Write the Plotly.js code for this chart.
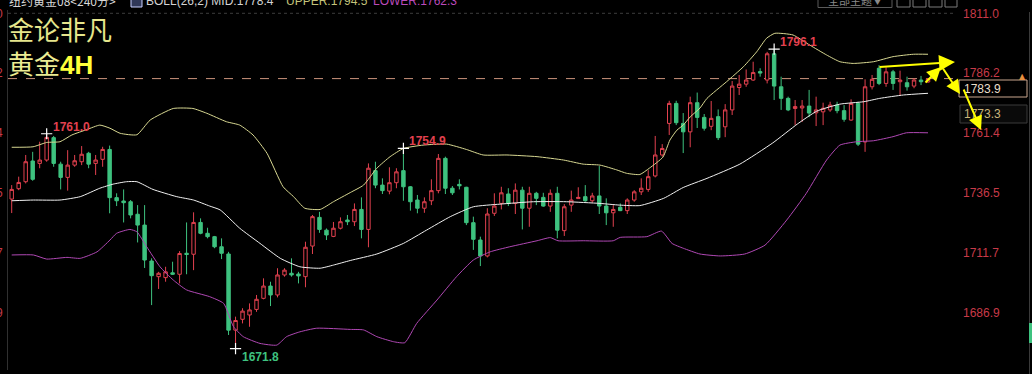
<!DOCTYPE html>
<html>
<head>
<meta charset="utf-8">
<script src="https://cdn.plot.ly/plotly-3.0.1.min.js"></script>
<style>
html,body{margin:0;padding:0;background:#000;}
#chart{width:1032px;height:374px;}
</style>
</head>
<body>
<div id="chart"></div>
<script>
// ---------- data ----------
const opens  = [1733.9,1738.2,1741.1,1749.7,1748.7,1750.1,1759.4,1748.4,1742.9,1748.0,1749.4,1752.9,1748.7,1750.4,1754.5,1734.5,1733.1,1732.8,1727.6,1723.1,
1708.2,1701.7,1701.3,1703.3,1702.7,1711.4,1711.0,1724.2,1719.7,1718.3,1714.1,1711.1,1679.5,1684.0,1685.8,1688.1,1692.7,1697.8,1694.1,1702.4,
1703.1,1702.8,1701.7,1714.4,1726.3,1721.0,1718.4,1721.8,1725.2,1724.5,1729.6,1721.3,1745.7,1739.7,1737.2,1740.7,1745.7,1739.0,1733.5,1730.1,
1733.2,1737.4,1750.8,1738.4,1740.0,1738.8,1724.1,1716.9,1710.3,1728.0,1732.1,1736.0,1732.1,1737.6,1730.1,1736.3,1734.6,1731.0,1736.3,1720.8,
1731.4,1734.1,1734.9,1733.2,1735.2,1731.0,1728.2,1730.5,1729.1,1733.5,1736.9,1737.9,1743.5,1752.2,1765.3,1773.6,1765.3,1761.8,1773.9,1767.8,
1764.1,1768.1,1763.9,1770.9,1780.2,1781.6,1783.3,1786.8,1783.3,1794.2,1780.5,1775.7,1771.5,1771.7,1772.5,1769.7,1770.1,1770.9,1772.9,1770.6,
1766.7,1773.6,1757.6,1780.5,1788.2,1781.9,1786.7,1782.6,1782.2,1780.8,1783.3,1782.5];
const highs  = [1739.7,1743.2,1752.2,1753.5,1757.7,1761.0,1760.1,1749.4,1754.2,1752.2,1755.9,1753.5,1752.2,1755.6,1756.1,1736.3,1737.9,1733.5,1731.4,1731.4,
1709.3,1703.7,1705.8,1707.9,1712.3,1724.2,1728.4,1725.9,1722.0,1718.6,1717.6,1712.0,1685.1,1688.6,1690.6,1694.1,1701.0,1699.6,1705.2,1705.2,
1709.3,1703.7,1716.2,1727.3,1728.6,1721.7,1724.4,1726.3,1727.3,1732.1,1734.6,1748.7,1749.4,1742.5,1747.1,1746.7,1754.9,1739.3,1735.6,1734.6,
1742.1,1752.6,1751.5,1739.3,1742.1,1739.0,1726.6,1718.3,1730.1,1736.3,1739.0,1738.4,1740.4,1739.0,1739.0,1736.9,1736.5,1737.9,1739.0,1731.8,
1737.4,1738.8,1739.7,1736.5,1747.6,1734.2,1731.4,1732.1,1734.2,1737.6,1742.5,1745.9,1760.1,1756.7,1774.7,1774.7,1769.6,1776.4,1778.1,1769.2,
1774.6,1771.1,1773.3,1782.9,1785.4,1787.7,1790.9,1788.2,1795.0,1796.1,1784.7,1776.4,1775.0,1775.0,1779.2,1776.4,1773.9,1774.3,1774.3,1772.9,
1775.3,1774.3,1783.6,1785.4,1789.5,1788.6,1787.5,1787.2,1784.7,1784.0,1785.0,1784.1];
const lows   = [1728.1,1737.6,1740.4,1741.5,1746.7,1749.4,1747.3,1737.9,1737.4,1747.3,1748.0,1746.7,1743.9,1747.3,1728.0,1731.0,1724.2,1725.9,1715.9,1705.3,
1689.9,1696.6,1699.6,1702.4,1698.9,1702.7,1704.4,1719.3,1717.6,1713.5,1709.0,1677.5,1671.8,1682.3,1680.9,1687.1,1692.3,1689.5,1693.1,1701.7,
1701.7,1698.9,1697.3,1711.1,1719.9,1716.9,1718.1,1721.3,1723.1,1722.7,1717.6,1713.9,1738.4,1736.0,1735.9,1738.4,1733.2,1729.1,1728.0,1728.2,
1731.4,1736.3,1736.0,1735.6,1737.9,1723.1,1712.8,1706.1,1709.7,1726.9,1729.6,1731.0,1727.7,1721.3,1722.4,1731.4,1730.7,1728.6,1717.6,1718.6,
1728.6,1734.0,1732.8,1732.4,1727.7,1723.1,1722.4,1728.9,1727.7,1732.8,1735.6,1736.9,1742.9,1751.5,1760.5,1764.6,1753.0,1755.4,1763.4,1762.3,
1762.5,1758.4,1759.6,1768.8,1777.1,1780.5,1783.0,1784.7,1781.9,1775.0,1770.9,1770.4,1764.6,1765.9,1767.9,1764.2,1764.6,1770.1,1769.5,1766.0,
1766.4,1755.9,1753.5,1779.4,1781.2,1780.5,1779.2,1776.7,1778.9,1779.9,1781.2,1782.2];
const closes = [1737.9,1740.8,1749.4,1742.1,1750.1,1759.5,1748.7,1742.9,1748.0,1749.8,1752.5,1748.4,1750.1,1754.5,1734.5,1733.2,1732.4,1727.3,1723.1,1708.6,
1702.1,1703.1,1703.7,1702.7,1711.3,1710.9,1724.2,1719.7,1718.3,1714.1,1711.4,1679.5,1683.5,1687.4,1687.9,1692.3,1697.8,1694.1,1702.4,1704.4,
1702.4,1702.0,1713.9,1726.6,1721.3,1719.0,1721.8,1724.5,1724.5,1729.6,1721.3,1746.7,1739.7,1737.4,1740.7,1745.2,1739.0,1732.8,1730.1,1732.8,
1737.4,1750.8,1738.4,1736.5,1739.4,1724.1,1717.2,1710.3,1727.7,1731.0,1736.5,1732.1,1737.6,1730.1,1736.3,1734.2,1731.0,1736.3,1721.0,1730.7,
1733.5,1734.6,1733.2,1735.2,1731.0,1728.2,1729.6,1729.1,1733.5,1736.9,1738.4,1743.2,1752.2,1754.9,1773.6,1765.6,1761.8,1773.9,1767.8,1763.3,
1767.4,1759.4,1770.9,1780.8,1781.6,1783.3,1786.4,1786.2,1794.2,1780.8,1775.7,1770.9,1772.3,1772.5,1769.6,1770.9,1771.6,1772.9,1770.6,1767.0,
1773.6,1756.7,1780.5,1783.6,1781.9,1786.7,1781.9,1783.3,1780.5,1783.3,1782.6,1783.9];

// Bollinger bands (26,2) read at sample points: x = bar index
const upperX = [0,3.05,5.0,6.9,8.6,10.8,12.6,14.05,15.5,17.9,19.8,23.1,25.9,27.9,30.7,32.6,34.5,36.5,38.8,40.3,41.9,44.1,46.0,48.4,50.3,52.2,54.1,56.0,58.8,62.2,65.0,67.4,70.8,75.1,78.9,81.7,84.1,86.5,87.9,89.8,91.2,93.1,94.1,95.1,96.0,97.0,98.4,99.4,102.2,104.6,106.5,107.9,109.1,111.7,114.1,116.5,118.4,120.3,123.2,126.0,128.9,131];
const upperY = [1755.4,1755.6,1757.4,1757.7,1760.5,1762.8,1764.6,1763.3,1761.2,1760.6,1766.7,1771.5,1771.5,1769.5,1766.0,1764.6,1760.5,1752.9,1739.0,1734.9,1730.1,1729.6,1732.8,1736.6,1739.7,1746.7,1751.5,1754.9,1756.3,1756.7,1754.5,1752.2,1752.2,1751.5,1750.1,1748.4,1748.0,1746.0,1744.6,1744.1,1746.8,1751.3,1758.4,1762.5,1764.6,1768.0,1771.7,1775.7,1782.6,1788.8,1795.0,1800.6,1802.7,1802.0,1797.8,1793.7,1790.9,1790.2,1790.9,1793.0,1794.0,1794.0];
const midX   = [0,3.1,6.9,9.8,12.6,14.5,16.4,17.9,20.2,23.6,26.0,28.3,29.8,32.6,35.5,38.4,41.2,44.1,46.0,48.4,52.2,56.0,59.3,62.7,66.0,69.8,74.6,79.3,84.1,86.9,89.8,93.2,96.0,99.4,104.1,108.8,112.3,115.1,118.4,121.8,124.1,127.5,131];
const midY   = [1733.2,1733.5,1733.5,1734.9,1738.4,1740.1,1741.1,1741.1,1737.9,1734.9,1733.5,1731.0,1729.4,1721.8,1715.5,1709.3,1705.8,1705.2,1706.5,1708.4,1711.1,1715.5,1721.0,1726.6,1730.7,1731.8,1732.8,1732.8,1732.1,1731.4,1731.2,1734.2,1738.7,1742.5,1748.4,1757.2,1765.0,1770.4,1773.3,1774.3,1775.7,1777.1,1777.8];
const lowerX = [0,3.1,5.0,7.9,9.8,12.2,14.05,15.0,16.9,17.9,19.3,21.2,23.1,25.0,28.3,30.3,31.7,33.1,35.5,37.9,39.3,41.2,43.6,48.4,50.3,52.2,54.6,56.2,57.9,60.8,63.6,66.0,68.4,71.2,75.1,77.0,78.1,81.7,86.0,87.0,90.8,92.9,94.4,96.0,98.4,101.3,104.8,107.7,110.8,113.6,116.5,118.4,120.8,123.2,126.0,127.9,131];
const lowerY = [1710.7,1710.7,1709.0,1709.7,1709.3,1712.0,1716.9,1719.7,1721.3,1720.3,1714.1,1705.8,1700.3,1696.2,1693.4,1690.6,1681.0,1676.8,1674.0,1673.3,1676.8,1678.8,1680.3,1679.8,1679.6,1676.8,1674.7,1674.3,1682.3,1692.0,1701.7,1708.6,1712.0,1714.1,1716.6,1717.9,1716.6,1716.6,1716.6,1718.0,1718.3,1720.6,1715.5,1713.5,1711.1,1710.3,1711.1,1714.8,1725.2,1736.3,1750.1,1756.3,1757.7,1758.1,1759.8,1761.4,1761.4];

const tickVals = [1811.0,1786.2,1761.4,1736.5,1711.7,1686.9];
const tickText = tickVals.map(v => v.toFixed(1));
const highMarks = [5, 56, 109];   // bars whose high is labelled
const lowMarks  = [32];           // bars whose low is labelled
const crossPrice = 1773.3;
const headerTexts = ['纽约黄金08&lt;240分&gt;', 'BOLL(26,2) MID:1778.4', 'UPPER:1794.5', 'LOWER:1762.3'];
const titleLines = ['金论非凡', '黄金', '4H'];

// ---------- layout helpers ----------
const M = {l: 8, r: 79, t: 10, b: 4};
const PW = 1032 - M.l - M.r, PH = 374 - M.t - M.b;
const fx = p => (p - M.l) / PW;
const fy = p => 1 - (p - M.t) / PH;
const xs = closes.map((_, i) => i);
const NUM = 'Liberation Sans, Arial, sans-serif';
const CJK = 'Noto Sans CJK SC, Microsoft YaHei, sans-serif';
const RED = '#e2414f', GREEN = '#3ec27f', AXRED = '#c83a48';
const yRange = [1662.96, 1812.37];
const xRange = [-0.529, 134.57];
const lastClose = closes[closes.length - 1];

const traces = [
  {type: 'candlestick', x: xs, open: opens, high: highs, low: lows, close: closes,
   increasing: {line: {color: RED, width: 1}, fillcolor: '#000000'},
   decreasing: {line: {color: GREEN, width: 1}, fillcolor: GREEN},
   whiskerwidth: 0, hoverinfo: 'skip', showlegend: false},
  {type: 'scatter', mode: 'lines', x: upperX, y: upperY, line: {color: '#d8d892', width: 1, shape: 'spline', smoothing: 0.5}, hoverinfo: 'skip', showlegend: false},
  {type: 'scatter', mode: 'lines', x: midX, y: midY, line: {color: '#f0f0f0', width: 1, shape: 'spline', smoothing: 0.5}, hoverinfo: 'skip', showlegend: false},
  {type: 'scatter', mode: 'lines', x: lowerX, y: lowerY, line: {color: '#b048b4', width: 1, shape: 'spline', smoothing: 0.5}, hoverinfo: 'skip', showlegend: false},
  {type: 'scatter', mode: 'markers', x: highMarks.concat(lowMarks), y: highMarks.map(i => highs[i]).concat(lowMarks.map(i => lows[i])),
   marker: {symbol: 'cross-thin', size: 8, line: {color: '#ffffff', width: 1.2}}, hoverinfo: 'skip', showlegend: false},
  {type: 'scatter', mode: 'markers', x: [0], y: [closes[0]], yaxis: 'y2', marker: {opacity: 0}, hoverinfo: 'skip', showlegend: false}
];

const ann = [];
highMarks.forEach(i => ann.push({x: i, y: highs[i], xref: 'x', yref: 'y', text: '<b>' + highs[i].toFixed(1) + '</b>', showarrow: false,
  xanchor: 'left', yanchor: 'middle', xshift: 4, yshift: 7, font: {family: NUM, size: 12, color: RED}}));
lowMarks.forEach(i => ann.push({x: i, y: lows[i], xref: 'x', yref: 'y', text: '<b>' + lows[i].toFixed(1) + '</b>', showarrow: false,
  xanchor: 'left', yanchor: 'middle', xshift: 4, yshift: -8, font: {family: NUM, size: 12, color: GREEN}}));

const P = (x, y, o) => Object.assign({xref: 'paper', yref: 'paper', x: fx(x), y: fy(y), showarrow: false, xanchor: 'left', yanchor: 'middle'}, o);
// header
ann.push(P(7, 0.5, {text: headerTexts[0], font: {family: CJK, size: 12, color: '#d8d8d8'}}));
ann.push(P(144, 0.5, {text: headerTexts[1], font: {family: NUM, size: 12, color: '#d4d4d4'}}));
ann.push(P(284, 0.5, {text: headerTexts[2], font: {family: NUM, size: 12, color: '#c4c47a'}}));
ann.push(P(371, 0.5, {text: headerTexts[3], font: {family: NUM, size: 12, color: '#bb4abb'}}));
ann.push(P(855, 0, {text: '全部主题▼', xanchor: 'center', font: {family: CJK, size: 11, color: '#8a8a8a'}}));
// big two-line title (one text block)
ann.push(P(6, 46, {align: 'left',
  text: '<span style="color:#e6e68c">' + titleLines[0] + '</span><br><span style="color:#ecec92">' + titleLines[1] +
        '</span><b><span style="font-family:Liberation Sans, Arial;color:#ffff3a">' + titleLines[2] + '</span></b>',
  font: {family: CJK, size: 26, color: '#e6e68c'}}));
// right side price boxes
ann.push(P(962, 88.5, {text: lastClose.toFixed(1), font: {family: NUM, size: 12, color: '#eadfca'}}));
ann.push(P(962, 114, {text: crossPrice.toFixed(1), font: {family: NUM, size: 12, color: '#c9b47a'}}));
ann.push(P(1022, 76, {text: '▲', xanchor: 'center', font: {family: 'DejaVu Sans', size: 8, color: '#e8903e'}}));
// yellow arrows
const arrow = (x0, y0, x1, y1, size) => ({xref: 'paper', yref: 'paper', x: fx(x1), y: fy(y1), ax: x0 - x1, ay: y0 - y1,
  axref: 'pixel', ayref: 'pixel', text: '', showarrow: true, arrowhead: 2, arrowsize: size, arrowwidth: 2, arrowcolor: '#ffff00', standoff: 0, startstandoff: 0});
ann.push(arrow(878, 67, 955, 62, 1.6));
ann.push(arrow(924, 84, 941, 67, 1.4));
ann.push(arrow(942, 67, 960, 94, 1.4));
ann.push(arrow(963, 88, 981, 130, 1.4));

const S = (o) => Object.assign({xref: 'paper', yref: 'paper', layer: 'above'}, o);
const shapes = [
  {type: 'line', xref: 'paper', yref: 'y', x0: 0, x1: 1, y0: tickVals[0], y1: tickVals[0], line: {color: '#3c3c3c', width: 1, dash: 'dot'}, layer: 'below'},
  {type: 'line', xref: 'paper', yref: 'y', x0: 0, x1: 1, y0: lastClose, y1: lastClose, line: {color: '#cc937c', width: 1, dash: 'dash'}, layer: 'below'},
  S({type: 'rect', x0: fx(959), x1: fx(1027), y0: fy(80), y1: fy(97), line: {color: '#c9a68e', width: 1}, fillcolor: 'rgba(0,0,0,0)'}),
  S({type: 'rect', x0: fx(960), x1: fx(1027), y0: fy(105), y1: fy(123), line: {color: '#3a3a3a', width: 1}, fillcolor: 'rgba(10,10,10,1)', layer: 'below'}),
  S({type: 'rect', x0: fx(818), x1: fx(892), y0: fy(-8), y1: fy(7.5), line: {color: '#5a5a5a', width: 1}}),
  S({type: 'rect', x0: fx(897), x1: fx(910), y0: fy(-6), y1: fy(7), line: {color: '#7a7a7a', width: 1}}),
  S({type: 'rect', x0: fx(913), x1: fx(926), y0: fy(-6), y1: fy(7), line: {color: '#7a7a7a', width: 1}}),
  S({type: 'rect', x0: fx(929), x1: fx(942), y0: fy(-6), y1: fy(7), line: {color: '#7a7a7a', width: 1}}),
  S({type: 'rect', x0: fx(945), x1: fx(957), y0: fy(-6), y1: fy(7), line: {color: '#7a7a7a', width: 1}}),
  S({type: 'rect', x0: fx(131), x1: fx(142), y0: fy(-4), y1: fy(7), line: {color: '#c8d0ff', width: 1}, fillcolor: 'rgba(120,140,220,0.4)'}),
  S({type: 'line', x0: fx(1029.5), x1: fx(1029.5), y0: fy(12), y1: fy(374), line: {color: '#3a3a3a', width: 1}}),
  S({type: 'rect', x0: fx(1029), x1: fx(1032), y0: fy(323), y1: fy(343), line: {width: 0}, fillcolor: GREEN})
];

const layout = {
  width: 1032, height: 374,
  margin: {l: M.l, r: M.r, t: M.t, b: M.b, pad: 0},
  paper_bgcolor: '#000000', plot_bgcolor: '#000000',
  showlegend: false, hovermode: false, dragmode: false,
  xaxis: {range: xRange, visible: false, fixedrange: true, rangeslider: {visible: false}},
  yaxis: {range: yRange, side: 'right', tickmode: 'array', tickvals: tickVals, ticktext: tickText,
    tickfont: {family: NUM, size: 12, color: AXRED}, ticks: '', showgrid: false, zeroline: false, showline: false,
    ticklabelstandoff: 9, fixedrange: true},
  yaxis2: {range: yRange, overlaying: 'y', side: 'left', tickmode: 'array', tickvals: tickVals, ticktext: tickText,
    tickfont: {family: NUM, size: 12, color: AXRED}, ticks: '', showgrid: false, zeroline: false,
    showline: true, linecolor: '#303030', linewidth: 1, ticklabelstandoff: 2, fixedrange: true},
  annotations: ann,
  shapes: shapes
};

Plotly.newPlot('chart', traces, layout, {staticPlot: true, displayModeBar: false});
</script>
</body>
</html>
